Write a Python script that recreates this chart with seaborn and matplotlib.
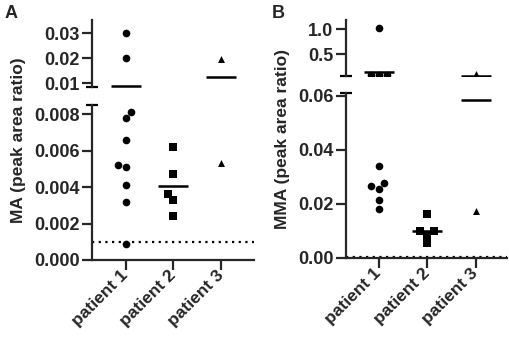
import matplotlib
matplotlib.use("Agg")
import matplotlib.pyplot as plt
import numpy as np
import pandas as pd
import seaborn as sns

#%% Data
patients = ['patient 1', 'patient 2', 'patient 3']
markers = ['o', 's', '^']
marker_sizes = [5.5, 5.5, 5.0]

ma_patient1 = [0.030, 0.020, 0.0081, 0.0078, 0.0066, 0.0052, 0.0051, 0.0041, 0.0032, 0.0009]
ma_patient2 = [0.0062, 0.0047, 0.0036, 0.0033, 0.0024]
ma_patient3 = [0.0197, 0.0053]
ma_limit = 0.001

mma_patient1 = [1.03, 0.092, 0.090, 0.088, 0.034, 0.0278, 0.0265, 0.0257, 0.0216, 0.018]
mma_patient2 = [0.0163, 0.0101, 0.0085, 0.0100, 0.0054]
mma_patient3 = [0.100, 0.0173]
mma_limit = 0.0005

ma_lower_ticks = [0.000, 0.002, 0.004, 0.006, 0.008]
ma_upper_ticks = [0.01, 0.02, 0.03]
mma_lower_ticks = [0.00, 0.02, 0.04, 0.06]
mma_upper_ticks = [0.5, 1.0]


def to_frame(groups):
    rows = []
    for patient, values in zip(patients, groups):
        rows += [(patient, v) for v in values]
    return pd.DataFrame(rows, columns=['patient', 'value'])


ma = to_frame([ma_patient1, ma_patient2, ma_patient3])
mma = to_frame([mma_patient1, mma_patient2, mma_patient3])

#%% Style
sns.set_theme(style="ticks")
plt.rcParams['font.family'] = ['Liberation Sans', 'DejaVu Sans']
plt.rcParams['font.weight'] = 'bold'
plt.rcParams['axes.linewidth'] = 1.6

W, H = 510, 337
fig = plt.figure(figsize=(W / 100, H / 100), dpi=100)


def box(x0, y0, x1, y1):
    # pixel box (top-left origin) -> figure fraction
    return [x0 / W, 1 - y1 / H, (x1 - x0) / W, (y1 - y0) / H]


def segment(ax, df, lo, hi, ticks, fmt, xlim, is_lower):
    seg = df[(df['value'] >= lo) & (df['value'] <= hi)]
    for patient, marker, size in zip(patients, markers, marker_sizes):
        sub = seg[seg['patient'] == patient]
        if len(sub) == 0:
            continue
        sns.swarmplot(data=sub, x='patient', y='value', order=patients,
                      marker=marker, size=size, color='black', ax=ax, zorder=3)
    # group means
    sns.pointplot(data=df, x='patient', y='value', order=patients, estimator='mean',
                  errorbar=None, marker='_', markersize=22, markeredgewidth=1.8,
                  linestyle='none', color='black', ax=ax, zorder=4)
    ax.set_ylim(lo, hi)
    ax.set_xlim(*xlim)
    ax.set_yticks(ticks)
    ax.set_yticklabels([fmt.format(t) for t in ticks])
    ax.set_xlabel('')
    ax.set_ylabel('')
    ax.tick_params(axis='y', length=7, width=1.6, pad=2, labelsize=13)
    if is_lower:
        sns.despine(ax=ax)
        ax.tick_params(axis='x', length=7, width=1.6, pad=2, labelsize=12.5)
        for lab in ax.get_xticklabels():
            lab.set_rotation(45)
            lab.set_ha('right')
            lab.set_va('center')
            lab.set_rotation_mode('anchor')
            lab.set_fontweight('bold')
        ax.plot([0], [1], marker='_', ms=8, mew=1.6, color='black',
                transform=ax.transAxes, clip_on=False)
    else:
        sns.despine(ax=ax, bottom=True)
        ax.set_xticks([])
        ax.plot([0], [0], marker='_', ms=8, mew=1.6, color='black',
                transform=ax.transAxes, clip_on=False)
    for lab in ax.get_yticklabels():
        lab.set_fontweight('bold')


#%% Panel A
ax_a_up = fig.add_axes(box(92, 20, 254, 87))
ax_a_lo = fig.add_axes(box(92, 105, 254, 260))
segment(ax_a_up, ma, 0.0086, 0.0353, ma_upper_ticks, '{:.2f}', (-0.71, 2.69), False)
segment(ax_a_lo, ma, 0.0, 0.0085, ma_lower_ticks, '{:.3f}', (-0.71, 2.69), True)
ax_a_lo.axhline(ma_limit, color='black', lw=1.6, ls=(0, (1, 2)), zorder=2)

#%% Panel B
ax_b_up = fig.add_axes(box(346, 20, 507, 76))
ax_b_lo = fig.add_axes(box(346, 93, 507, 258))
segment(ax_b_up, mma, 0.066, 1.19, mma_upper_ticks, '{:.1f}', (-0.68, 2.65), False)
segment(ax_b_lo, mma, 0.0, 0.0611, mma_lower_ticks, '{:.2f}', (-0.68, 2.65), True)
ax_b_lo.axhline(mma_limit, color='black', lw=1.6, ls=(0, (1, 2)), zorder=2)

#%% Labels
fig.text(19 / W, 1 - 140 / H, 'MA (peak area ratio)', rotation=90,
         ha='center', va='center', fontsize=12.5, fontweight='bold')
fig.text(283 / W, 1 - 139 / H, 'MMA (peak area ratio)', rotation=90,
         ha='center', va='center', fontsize=12.5, fontweight='bold')
fig.text(11 / W, 1 - 13 / H, 'A', ha='center', va='center', fontsize=13, fontweight='bold')
fig.text(278 / W, 1 - 13 / H, 'B', ha='center', va='center', fontsize=13, fontweight='bold')

fig.savefig('out.png', dpi=100)
